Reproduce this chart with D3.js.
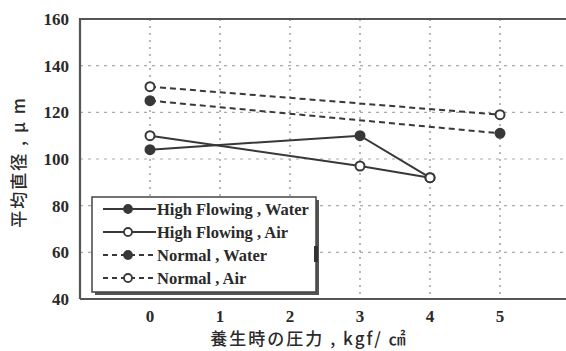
<!DOCTYPE html>
<html>
<head>
<meta charset="utf-8">
<script src="https://cdn.jsdelivr.net/npm/d3@7"></script>
<style>
  body { margin: 0; background: #fff; }
  svg { display: block; }
  .tick-label { font: bold 17px "Liberation Serif", serif; fill: #2a2a2a; }
  .axis-title { font: 500 17px "Noto Sans CJK JP", sans-serif; fill: #2a2a2a; letter-spacing: 2px; }
  .legend-text { font: bold 16.5px "Liberation Serif", serif; fill: #2a2a2a; }
</style>
</head>
<body>
<svg id="chart"></svg>
<script>
// pressure during curing (kgf/cm2)
const pressures = [0, 1, 2, 3, 4, 5];
const yTicks = [40, 60, 80, 100, 120, 140, 160];

const seriesNames = ["High Flowing , Water", "High Flowing , Air", "Normal , Water", "Normal , Air"];
const hfWater = [[0, 104], [3, 110], [4, 92]];
const hfAir = [[0, 110], [3, 97], [4, 92]];
const normalWater = [[0, 125], [5, 111]];
const normalAir = [[0, 131], [5, 119]];

const width = 566, height = 351;
const margin = {top: 19, right: -4, bottom: 52, left: 80};

let svg = d3.select("#chart").attr("width", width).attr("height", height);

let x = d3.scaleLinear().domain([-1, 6]).range([margin.left, width - margin.right]);
let y = d3.scaleLinear().domain([40, 160]).range([height - margin.bottom, margin.top]);

// grid
svg.append("g").selectAll("line")
    .data(yTicks.filter(d => d > 40 && d < 160))
    .enter().append("line")
    .attr("x1", margin.left).attr("x2", width)
    .attr("y1", d => y(d)).attr("y2", d => y(d))
    .style("stroke", "#aaa").style("stroke-width", 1.2)
    .style("stroke-dasharray", "3,5");

svg.append("g").selectAll("line")
    .data(pressures)
    .enter().append("line")
    .attr("x1", d => x(d)).attr("x2", d => x(d))
    .attr("y1", y(160)).attr("y2", y(40))
    .style("stroke", "#888").style("stroke-width", 1.2)
    .style("stroke-dasharray", "2,5");

// frame: left, top, bottom
svg.append("path")
    .attr("d", `M${x(-1)},${y(40)} L${x(-1)},${y(160)} L${width},${y(160)} M${x(-1)},${y(40)} L${width},${y(40)}`)
    .style("fill", "none").style("stroke", "#555").style("stroke-width", 2.2);

// tick labels
svg.append("g").selectAll("text")
    .data(yTicks)
    .enter().append("text")
    .attr("class", "tick-label")
    .attr("x", 69).attr("y", d => y(d))
    .attr("dy", "0.35em")
    .attr("text-anchor", "end")
    .text(d => d);

svg.append("g").selectAll("text")
    .data(pressures)
    .enter().append("text")
    .attr("class", "tick-label")
    .attr("x", d => x(d)).attr("y", 316)
    .attr("dy", "0.35em")
    .attr("text-anchor", "middle")
    .text(d => d);

// axis titles
svg.append("text")
    .attr("class", "axis-title")
    .attr("transform", "translate(19,162) rotate(-90)")
    .attr("text-anchor", "middle")
    .attr("dy", "0.35em")
    .text("平均直径 , μ m");

svg.append("text")
    .attr("class", "axis-title")
    .attr("x", 309).attr("y", 339.5)
    .attr("text-anchor", "middle")
    .attr("dy", "0.35em")
    .text("養生時の圧力 , kgf/ ㎠");

// series
let series = [
    {name: seriesNames[0], data: hfWater, dash: null, filled: true},
    {name: seriesNames[1], data: hfAir, dash: null, filled: false},
    {name: seriesNames[2], data: normalWater, dash: "6,4", filled: true},
    {name: seriesNames[3], data: normalAir, dash: "6,4", filled: false}
];

let line = d3.line().x(d => x(d[0])).y(d => y(d[1]));

series.forEach(function(s) {
    svg.append("path")
        .datum(s.data)
        .attr("d", line)
        .style("fill", "none")
        .style("stroke", "#383838")
        .style("stroke-width", 2)
        .style("stroke-dasharray", s.dash);

    svg.append("g").selectAll("circle")
        .data(s.data)
        .enter().append("circle")
        .attr("cx", d => x(d[0])).attr("cy", d => y(d[1]))
        .attr("r", 4.5)
        .style("fill", s.filled ? "#383838" : "#fff")
        .style("stroke", "#383838")
        .style("stroke-width", 2);
});

// legend
let lg = svg.append("g");
lg.append("rect")
    .attr("x", 95).attr("y", 200).attr("width", 224).attr("height", 95)
    .style("fill", "#555");
lg.append("rect")
    .attr("x", 92).attr("y", 197).attr("width", 224).attr("height", 95)
    .style("fill", "#fff").style("stroke", "#444").style("stroke-width", 1.5);
lg.append("rect")
    .attr("x", 314).attr("y", 246).attr("width", 4).attr("height", 16)
    .style("fill", "#333");

series.forEach(function(s, i) {
    let ly = 209 + i * 23;
    lg.append("line")
        .attr("x1", 103).attr("x2", 156)
        .attr("y1", ly).attr("y2", ly)
        .style("stroke", "#383838").style("stroke-width", 1.8)
        .style("stroke-dasharray", s.dash ? "5,4" : null);
    lg.append("circle")
        .attr("cx", 128).attr("cy", ly).attr("r", 4)
        .style("fill", s.filled ? "#383838" : "#fff")
        .style("stroke", "#383838").style("stroke-width", 1.8);
    lg.append("text")
        .attr("class", "legend-text")
        .attr("x", 157).attr("y", ly)
        .attr("dy", "0.35em")
        .text(s.name);
});
</script>
</body>
</html>
